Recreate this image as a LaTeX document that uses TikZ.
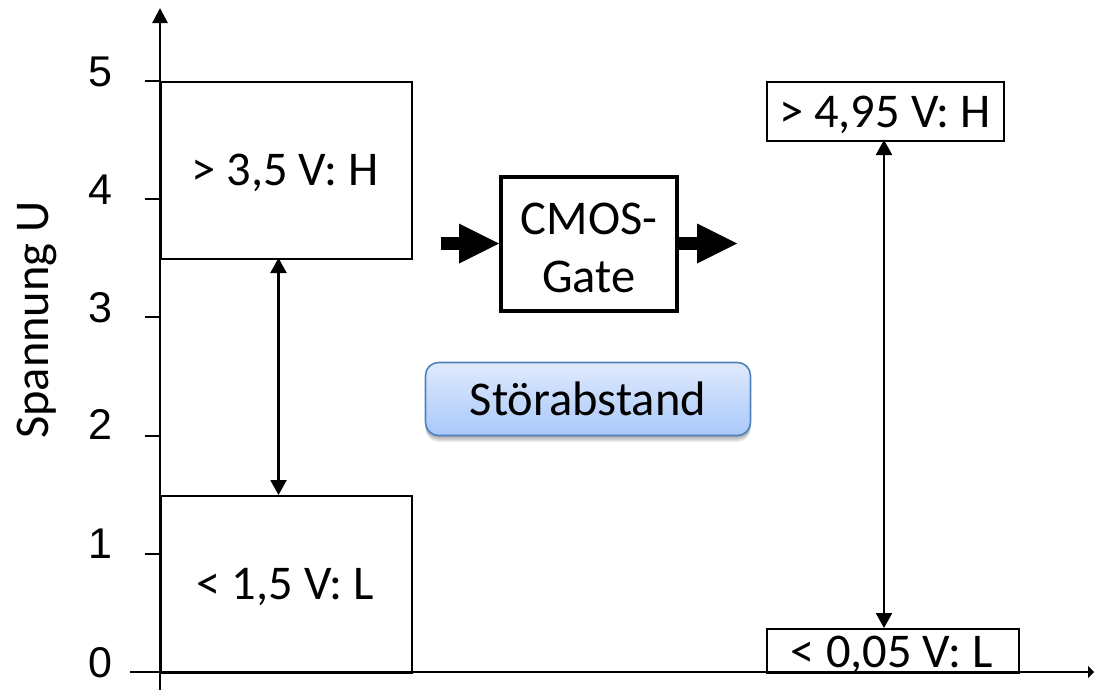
\documentclass[tikz,border=0pt]{standalone}
\usepackage{fontspec}
\setmainfont{Carlito}
\newfontfamily\arialfont{Liberation Sans}
\usetikzlibrary{arrows.meta,shadows,calc}
\tikzset{
  x=1pt,y=-1pt,
  levelbox/.style={draw=black,line width=1.7pt,fill=white,inner sep=0pt},
  axisline/.style={draw=black,line width=2.7pt},
  tickline/.style={draw=black,line width=1.7pt},
  ticklabel/.style={inner sep=0pt,anchor=base,font=\arialfont\fontsize{43}{52}\selectfont},
  tiplabel/.style={inner sep=0pt,anchor=base,font=\fontsize{48.5}{58}\selectfont},
  dblarrow/.style={draw=black,line width=2.2pt,{Triangle[length=15pt,width=16pt]}-{Triangle[length=15pt,width=16pt]}},
  blockarrow/.style={draw=black,line width=12.5pt,-{Triangle[length=40pt,width=40pt,line width=0pt]}},
  gatebox/.style={draw=black,line width=4pt,fill=white,inner sep=0pt},
  gatetext/.style={inner sep=0pt,align=center,font=\fontsize{48.5}{58}\selectfont},
  softshadow/.style={drop shadow={shadow xshift=0pt,shadow yshift=-#1,opacity=.12,fill=black}},
  stoerbox/.style={rounded corners=13pt,draw={rgb,255:red,79;green,129;blue,189},line width=1.6pt,
    top color={rgb,255:red,224;green,234;blue,252},bottom color={rgb,255:red,168;green,200;blue,251},
    softshadow=6pt,softshadow=4pt,softshadow=2pt,inner sep=0pt}
}
\begin{document}
\begin{tikzpicture}
\useasboundingbox (0,0) rectangle (1094,699);
% level boxes
\node[levelbox,minimum width=251pt,minimum height=177pt,anchor=north west] (hin) at (160,81) {};
\node[levelbox,minimum width=251pt,minimum height=177pt,anchor=north west] (lin) at (160,495) {};
\node[levelbox,minimum width=237pt,minimum height=59pt,anchor=north west] (hout) at (766,81) {};
\node[levelbox,minimum width=252pt,minimum height=44pt,anchor=north west] (lout) at (766,628) {};
\node[tiplabel] (hintext) at (285,185) {> 3,5 V: H};
\node[tiplabel] (lintext) at (285.5,599) {< 1,5 V: L};
\node[tiplabel] (houttext) at (885,127) {> 4,95 V: H};
\node[tiplabel] (louttext) at (892,667) {< 0,05 V: L};
% axes
\coordinate (yb) at (160,690);
\coordinate (yt) at (160,8);
\coordinate (xl) at (130,672);
\coordinate (xr) at (1094,672);
\draw[axisline,-{Triangle[length=15pt,width=15pt]}] (yb) -- (yt);
\draw[axisline,-{Triangle[length=6pt,width=12pt]}] (xl) -- (xr);
% ticks and labels
\foreach \v/\yy in {5/81,4/199,3/317,2/436,1/554}{
  \coordinate (tl\v) at (145,\yy);
  \coordinate (tr\v) at (160,\yy);
  \draw[tickline] (tl\v) -- (tr\v);
}
\foreach \v/\yy in {5/86,4/204,3/322,2/439,1/558,0/677}{
  \node[ticklabel] (lab\v) at (100,\yy) {\v};
}
\node[tiplabel,rotate=90] (ylabel) at (48,320) {Spannung U};
% double arrows
\coordinate (a1t) at (278.5,258);
\coordinate (a1b) at (278.5,495);
\coordinate (a2t) at (884,140);
\coordinate (a2b) at (884,628);
\draw[dblarrow] (a1t) -- (a1b);
\draw[dblarrow] (a2t) -- (a2b);
% gate
\node[gatebox,minimum width=176pt,minimum height=134pt] (gate) at (589,243.5) {};
\node[gatetext] (gatelabel) at (589,248) {CMOS-\\Gate};
\coordinate (inl) at (441,243.5);
\coordinate (outr) at (737,243.5);
\draw[blockarrow] (inl) -- (gate.west);
\draw[blockarrow] (gate.east) -- (outr);
% Stoerabstand
\node[stoerbox,minimum width=325pt,minimum height=73pt] (stoer) at (588,399) {};
\node[tiplabel] (stoertext) at (588,415) {Störabstand};
\end{tikzpicture}
\end{document}
